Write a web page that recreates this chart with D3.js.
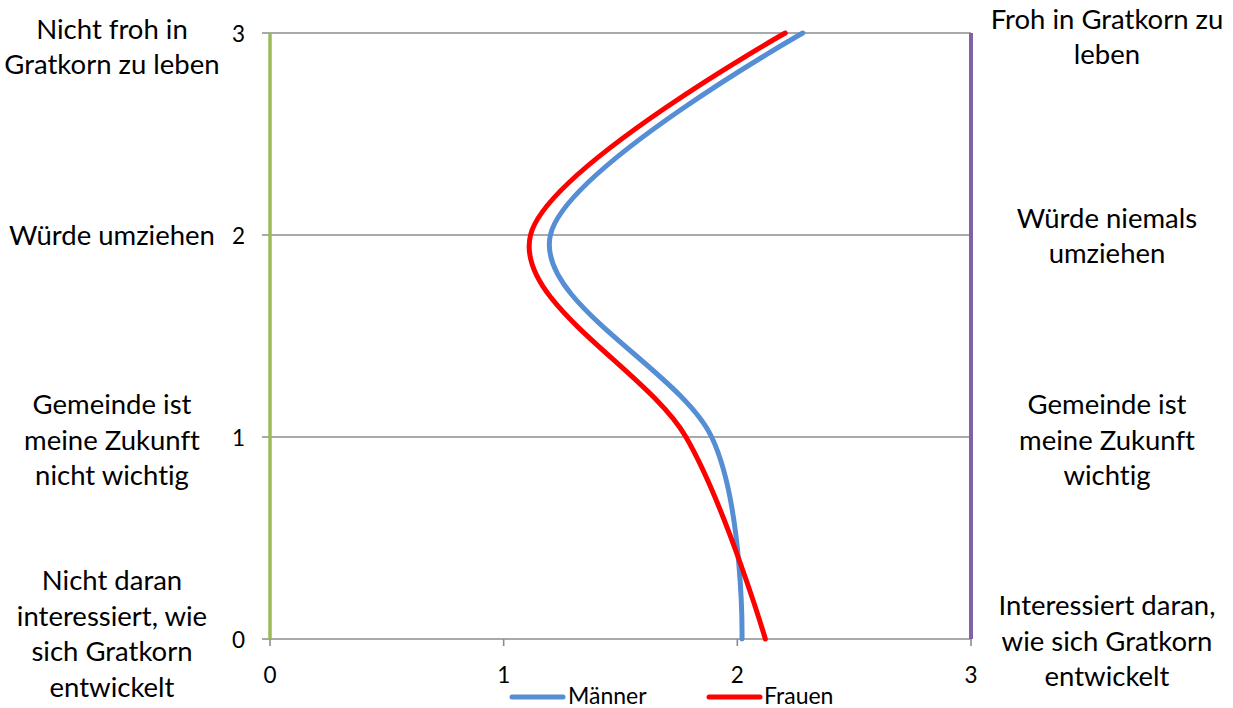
<!DOCTYPE html>
<html>
<head>
<meta charset="utf-8">
<script src="https://cdn.jsdelivr.net/npm/d3@7"></script>
<style>
  html, body { margin: 0; padding: 0; background: #fff; }
  svg { display: block; font-family: Lato, "Open Sans", sans-serif; font-variant-ligatures: none; }
</style>
</head>
<body>
<svg id="chart" width="1233" height="708"></svg>
<script>
// Attitude levels (vertical scale) and mean scores per group (horizontal scale)
const levels = [0, 1, 2, 3];
const maenner = [2.02, 1.89, 1.20, 2.28];
const frauen = [2.12, 1.78, 1.115, 2.205];
const xTicks = [0, 1, 2, 3];
const yTicks = [0, 1, 2, 3];

// Pole descriptions for each level: negative pole on the left, positive on the right
const leftLabels = [
  ["Nicht daran", "interessiert, wie", "sich Gratkorn", "entwickelt"],
  ["Gemeinde ist", "meine Zukunft", "nicht wichtig"],
  ["Würde umziehen"],
  ["Nicht froh in", "Gratkorn zu leben"]
];
const rightLabels = [
  ["Interessiert daran,", "wie sich Gratkorn", "entwickelt"],
  ["Gemeinde ist", "meine Zukunft", "wichtig"],
  ["Würde niemals", "umziehen"],
  ["Froh in Gratkorn zu", "leben"]
];
const seriesNames = ["Männer", "Frauen"];
const seriesColors = ["#558ED5", "#FF0000"];

const svg = d3.select("#chart");
const x = d3.scaleLinear().domain([0, 3]).range([270, 971]);
const y = d3.scaleLinear().domain([0, 3]).range([639, 33]);

const gridColor = "#8c8c8c";

// Horizontal gridlines (including the baseline)
svg.append("g").selectAll("line").data(yTicks).join("line")
  .attr("x1", x(0) - 8).attr("x2", x(3))
  .attr("y1", d => y(d)).attr("y2", d => y(d))
  .attr("stroke", gridColor).attr("stroke-width", 1.6);

// Bottom tick marks
svg.append("g").selectAll("line").data(xTicks).join("line")
  .attr("x1", d => x(d)).attr("x2", d => x(d))
  .attr("y1", y(0)).attr("y2", y(0) + 7)
  .attr("stroke", gridColor).attr("stroke-width", 1.6);

// Boundary lines at the two poles
svg.append("line")
  .attr("x1", x(0)).attr("x2", x(0)).attr("y1", y(0)).attr("y2", y(3))
  .attr("stroke", "#9BBB59").attr("stroke-width", 3.5);
svg.append("line")
  .attr("x1", x(3)).attr("x2", x(3)).attr("y1", y(0)).attr("y2", y(3))
  .attr("stroke", "#8064A2").attr("stroke-width", 4);

// Tick labels
svg.append("g").selectAll("text").data(yTicks).join("text")
  .attr("x", x(0) - 25).attr("y", d => y(d) + 1).attr("dy", "0.35em")
  .attr("text-anchor", "end").attr("font-size", 22.5).attr("fill", "#000")
  .text(d => d);
svg.append("g").selectAll("text").data(xTicks).join("text")
  .attr("x", d => x(d)).attr("y", y(0) + 44)
  .attr("text-anchor", "middle").attr("font-size", 22.5).attr("fill", "#000")
  .text(d => d);

// Multi-line pole labels; small per-level nudges keep the blocks inside the canvas
const lineH = 35.5;
function drawLabels(labels, cx, shifts) {
  labels.forEach((lines, i) => {
    const cy = y(levels[i]);
    const first = cy - (lines.length - 1) * lineH / 2;
    const t = svg.append("text")
      .attr("text-anchor", "middle").attr("font-size", 27.5).attr("fill", "#000");
    lines.forEach((ln, j) => {
      t.append("tspan").attr("x", cx)
        .attr("y", first + shifts[i] + j * lineH).attr("dy", "0.35em").text(ln);
    });
  });
}
drawLabels(leftLabels, 112, [-5, 3, 0, 14]);
drawLabels(rightLabels, 1107, [2, 3, 1, 4]);

// Smoothed score profiles
const line = d3.line()
  .x(d => x(d[0])).y(d => y(d[1]))
  .curve(d3.curveCardinal.tension(0));
[maenner, frauen].forEach((vals, k) => {
  svg.append("path")
    .datum(vals.map((v, i) => [v, levels[i]]))
    .attr("d", line)
    .attr("fill", "none")
    .attr("stroke", seriesColors[k])
    .attr("stroke-width", 5)
    .attr("stroke-linecap", "round");
});

// Legend
const legendItems = [{x0: 512, x1: 563, tx: 568}, {x0: 709, x1: 760, tx: 764}];
legendItems.forEach((it, k) => {
  svg.append("line")
    .attr("x1", it.x0).attr("x2", it.x1).attr("y1", 697).attr("y2", 697)
    .attr("stroke", seriesColors[k]).attr("stroke-width", 5).attr("stroke-linecap", "round");
  svg.append("text")
    .attr("x", it.tx).attr("y", 696).attr("dy", "0.35em")
    .attr("font-size", 23).attr("fill", "#000")
    .text(seriesNames[k]);
});
</script>
</body>
</html>
